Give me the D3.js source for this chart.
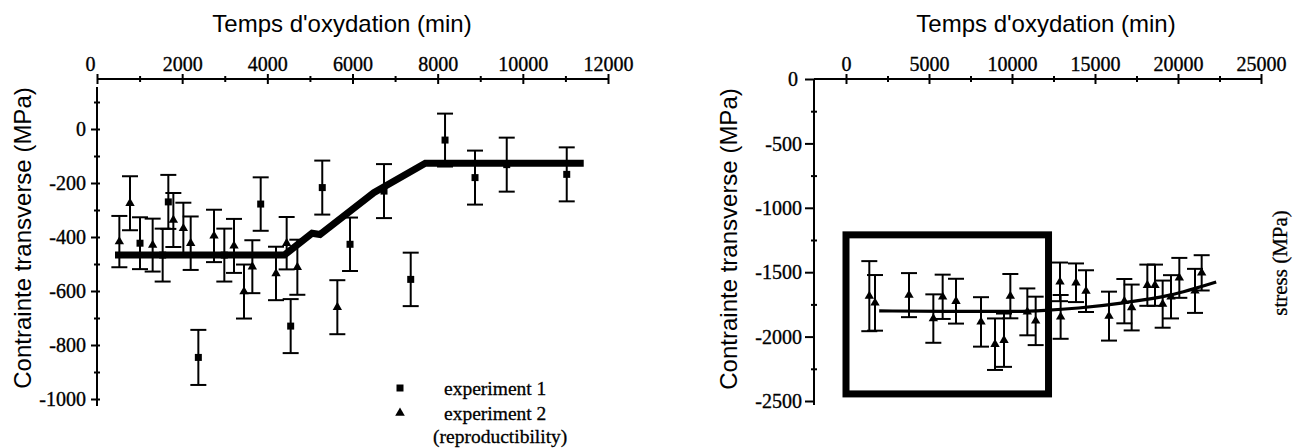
<!DOCTYPE html>
<html><head><meta charset="utf-8">
<script src="https://cdn.jsdelivr.net/npm/d3@7"></script>
<style>body{margin:0;background:#fff}svg{display:block}</style>
</head><body>
<svg id="c" width="1303" height="448"></svg>
<script>
// ---------- DATA ----------
const axisTitle = "Temps d'oxydation (min)";
const yTitle = "Contrainte transverse (MPa)";
const stressTitle = "stress (MPa)";
const legendLabels = ["experiment 1", "experiment 2", "(reproductibility)"];

// Left panel
const leftXTicks = [0, 2000, 4000, 6000, 8000, 10000, 12000];
const leftXMinor = [1000, 3000, 5000, 7000, 9000, 11000];
const leftYTicks = [0, -200, -400, -600, -800, -1000];
const leftYMinor = [100, -100, -300, -500, -700, -900];

const exp1Time   = [1010, 1542, 1675, 2380, 2990, 3844, 4548, 5290, 5942, 6740, 7367, 8173, 8877, 9622, 11031];
const exp1Stress = [-423, -467, -270, -846, -467, -278, -730, -217, -427, -230, -557, -41, -180, -132, -168];
const exp1Err    = [96, 98, 100, 102, 98, 99, 100, 100, 99, 100, 99, 98, 100, 100, 100];

const exp2Time   = [525, 775, 1307, 1793, 2028, 2200, 2748, 3217, 3452, 3648, 4204, 4454, 4705, 5644];
const exp2Stress = [-417, -275, -430, -337, -368, -423, -396, -433, -602, -510, -535, -423, -512, -660];
const exp2Err    = [95, 100, 98, 100, 95, 99, 97, 100, 100, 98, 99, 97, 102, 100];

const fitLTime   = [423, 4400, 5050, 5237, 6500, 7710, 11430];
const fitLStress = [-467, -467, -386, -391, -236, -127, -127];

// Right panel
const rightXTicks = [0, 5000, 10000, 15000, 20000, 25000];
const rightXMinor = [2500, 7500, 12500, 17500, 22500];
const rightYTicks = [0, -500, -1000, -1500, -2000, -2500];
const rightYMinor = [-250, -750, -1250, -1750, -2250];

const rTime   = [1404, 1747, 3795, 5261, 5823, 6627, 8133, 8976, 9518, 9900, 10924, 11426, 12892, 12930, 13855, 14458, 15843, 16767, 17209, 18153, 18614, 19076, 19578, 20080, 21024, 21426];
const rStress = [-1686, -1738, -1678, -1860, -1691, -1725, -1886, -2059, -2028, -1686, -1808, -1878, -1575, -1847, -1582, -1647, -1841, -1725, -1774, -1601, -1601, -1748, -1691, -1544, -1645, -1505];
const rErr    = [272, 216, 171, 188, 172, 174, 192, 200, 207, 172, 182, 188, 150, 170, 150, 162, 190, 172, 178, 160, 160, 183, 168, 155, 171, 137];

const fitRTime   = [2000, 6000, 10000, 12000, 14000, 16700, 19500, 22300];
const fitRStress = [-1800, -1804, -1804, -1796, -1778, -1738, -1678, -1576];

const boxTime   = [0, 12200];
const boxStress = [-1210, -2445];

// ---------- DRAW ----------
const SERIF = "'Liberation Serif','Times New Roman',serif";
const SANS = "'Liberation Sans',Arial,sans-serif";
const TICK_FS = 20;
const svg = d3.select('#c');
svg.append('rect').attr('width', 1303).attr('height', 448).attr('fill', '#fff');

function styleAxis(g) {
  g.attr('font-family', SERIF).attr('font-size', TICK_FS);
  g.selectAll('.tick text').attr('fill', '#000').attr('stroke', '#000').attr('stroke-width', 0.35);
  g.selectAll('.tick line').attr('stroke', '#000').attr('stroke-width', 2);
}

function hAxis(x, yPos, major, minor, x0, x1) {
  svg.append('line').attr('x1', x0).attr('x2', x1).attr('y1', yPos).attr('y2', yPos)
    .attr('stroke', '#000').attr('stroke-width', 2);
  const g = svg.append('g').attr('transform', `translate(0,${yPos})`)
    .call(d3.axisTop(x).tickValues(major).tickSizeOuter(0).tickFormat(d => String(d)));
  g.select('.domain').remove();
  styleAxis(g);
  g.selectAll('.tick line').attr('y1', -5).attr('y2', 5);
  g.selectAll('.tick text').attr('y', -8).attr('dy', 0);
  const gm = svg.append('g').attr('transform', `translate(0,${yPos})`)
    .call(d3.axisTop(x).tickValues(minor).tickSizeOuter(0).tickFormat(''));
  gm.select('.domain').remove();
  styleAxis(gm);
  gm.selectAll('.tick line').attr('y1', -3).attr('y2', 3);
  return g;
}

function vAxis(y, xPos, major, minor, y0, y1, labelX, majL, majR) {
  svg.append('line').attr('x1', xPos).attr('x2', xPos).attr('y1', y0).attr('y2', y1)
    .attr('stroke', '#000').attr('stroke-width', 2);
  const g = svg.append('g').attr('transform', `translate(${xPos},0)`)
    .call(d3.axisLeft(y).tickValues(major).tickSizeOuter(0).tickFormat(d => String(d)));
  g.select('.domain').remove();
  styleAxis(g);
  g.selectAll('.tick line').attr('x1', -majL).attr('x2', majR);
  g.selectAll('.tick text').attr('x', labelX).attr('dy', '0.33em');
  const gm = svg.append('g').attr('transform', `translate(${xPos},0)`)
    .call(d3.axisLeft(y).tickValues(minor).tickSizeOuter(0).tickFormat(''));
  gm.select('.domain').remove();
  styleAxis(gm);
  gm.selectAll('.tick line').attr('x1', -3).attr('x2', 3);
  return g;
}

function errorBars(x, y, T, V, E, cap) {
  const g = svg.append('g').attr('stroke', '#000').attr('stroke-width', 2);
  T.forEach((t, i) => {
    const cx = x(t), yt = y(V[i] + E[i]), yb = y(V[i] - E[i]);
    g.append('line').attr('x1', cx).attr('x2', cx).attr('y1', yt).attr('y2', yb);
    g.append('line').attr('x1', cx - cap).attr('x2', cx + cap).attr('y1', yt).attr('y2', yt);
    g.append('line').attr('x1', cx - cap).attr('x2', cx + cap).attr('y1', yb).attr('y2', yb);
  });
}

function markers(x, y, T, V, type, size) {
  const sym = d3.symbol().type(type).size(size);
  svg.append('g').selectAll('path').data(T).join('path')
    .attr('d', sym)
    .attr('transform', (t, i) => `translate(${x(t)},${y(V[i])})`)
    .attr('fill', '#000');
}

// ---- Left panel ----
const xL = d3.scaleLinear().domain([0, 12000]).range([97, 608]);
const yL = d3.scaleLinear().domain([0, -1000]).range([129, 399]);

const gxL = hAxis(xL, 79, leftXTicks, leftXMinor, 97, 609);
gxL.selectAll('.tick text').filter(d => d === 0).attr('dx', -7);
vAxis(yL, 97, leftYTicks, leftYMinor, 87, 406, -11, 6, 3);

svg.append('text').attr('x', 342).attr('y', 32).attr('text-anchor', 'middle')
  .attr('font-family', SANS).attr('font-size', 24).text(axisTitle);
svg.append('text').attr('transform', 'translate(31,238) rotate(-90)').attr('text-anchor', 'middle')
  .attr('font-family', SANS).attr('font-size', 24).text(yTitle);

errorBars(xL, yL, exp1Time, exp1Stress, exp1Err, 8);
errorBars(xL, yL, exp2Time, exp2Stress, exp2Err, 8);
markers(xL, yL, exp1Time, exp1Stress, d3.symbolSquare, 49);
markers(xL, yL, exp2Time, exp2Stress, d3.symbolTriangle, 38);

svg.append('path')
  .attr('d', d3.line().x((t) => xL(t)).y((t, i) => yL(fitLStress[i]))(fitLTime))
  .attr('fill', 'none').attr('stroke', '#000').attr('stroke-width', 7).attr('stroke-linejoin', 'miter');

// Legend
const lg = svg.append('g').attr('font-family', SERIF).attr('font-size', 19.5);
lg.append('path').attr('d', d3.symbol().type(d3.symbolSquare).size(49)()).attr('transform', 'translate(400,388)');
lg.append('path').attr('d', d3.symbol().type(d3.symbolTriangle).size(40)()).attr('transform', 'translate(400,413)');
lg.append('text').attr('x', 444).attr('y', 395).text(legendLabels[0]);
lg.append('text').attr('x', 444).attr('y', 420).text(legendLabels[1]);
lg.append('text').attr('x', 433).attr('y', 443).text(legendLabels[2]);
lg.selectAll('text').attr('stroke', '#000').attr('stroke-width', 0.3);

// ---- Right panel ----
const xR = d3.scaleLinear().domain([0, 25000]).range([846, 1261]);
const yR = d3.scaleLinear().domain([0, -2500]).range([79, 401]);

hAxis(xR, 79, rightXTicks, rightXMinor, 814, 1262);
const gyR = vAxis(yR, 814, rightYTicks, rightYMinor, 79, 405, -12, 9, 1);
gyR.selectAll('.tick text').filter(d => d === 0).attr('x', -16);

svg.append('text').attr('x', 1046).attr('y', 32).attr('text-anchor', 'middle')
  .attr('font-family', SANS).attr('font-size', 24).text(axisTitle);
svg.append('text').attr('transform', 'translate(737,239) rotate(-90)').attr('text-anchor', 'middle')
  .attr('font-family', SANS).attr('font-size', 24).text(yTitle);
svg.append('text').attr('transform', 'translate(1287,263) rotate(-90)').attr('text-anchor', 'middle')
  .attr('font-family', SERIF).attr('font-size', 21).attr('stroke', '#000').attr('stroke-width', 0.3).text(stressTitle);

svg.append('rect')
  .attr('x', xR(boxTime[0])).attr('y', yR(boxStress[0]))
  .attr('width', xR(boxTime[1]) - xR(boxTime[0])).attr('height', yR(boxStress[1]) - yR(boxStress[0]))
  .attr('fill', 'none').attr('stroke', '#000').attr('stroke-width', 7);

svg.append('path')
  .attr('d', d3.line().curve(d3.curveMonotoneX).x((t) => xR(t)).y((t, i) => yR(fitRStress[i]))(fitRTime))
  .attr('fill', 'none').attr('stroke', '#000').attr('stroke-width', 3.2);

errorBars(xR, yR, rTime, rStress, rErr, 8);
markers(xR, yR, rTime, rStress, d3.symbolTriangle, 38);
</script>
</body></html>
